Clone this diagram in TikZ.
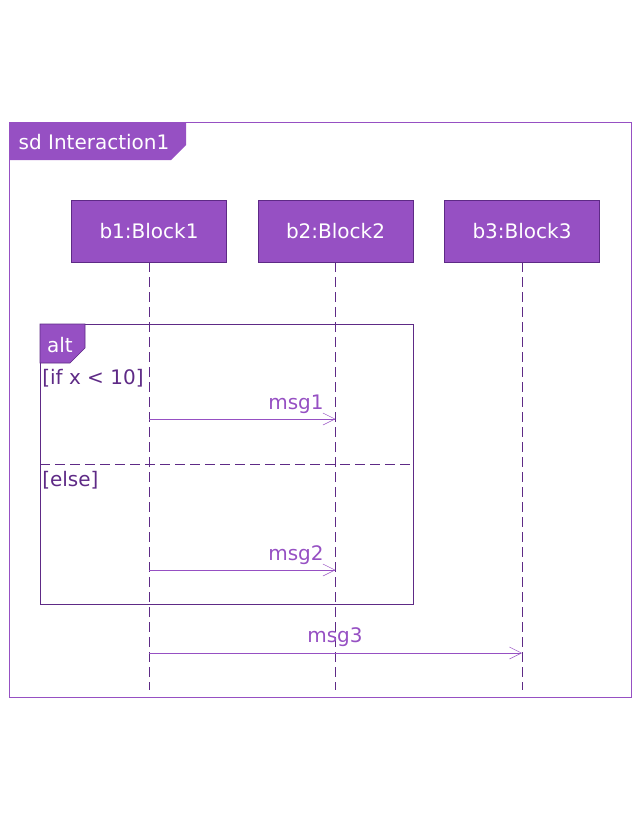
\documentclass[tikz,border=0pt]{standalone}
\usepackage{fontspec}
\setmainfont{DejaVu Sans}
\usetikzlibrary{arrows.meta}
\definecolor{umlfill}{HTML}{9650C3}
\definecolor{umldark}{HTML}{5E2A86}
\definecolor{umlmsg}{HTML}{9650C3}
\newcommand{\lbl}{\fontsize{15}{17}\selectfont}

\begin{document}
\begin{tikzpicture}[x=0.75pt,y=-0.75pt,
        block/.style={draw=umldark,fill=umlfill,text=white,minimum width=116.25pt,minimum height=46.5pt,inner sep=0pt,font=\lbl},
        lifeline/.style={draw=umldark,dash pattern=on 7.5pt off 3.75pt},
        msgline/.style={draw=umlmsg,-{Straight Barb[length=9pt,width=9pt]}},
        msglabel/.style={text=umlmsg,font=\lbl,inner sep=0pt},
        guard/.style={text=umldark,font=\lbl,inner sep=0pt,anchor=west},
        tag/.style={text=white,font=\lbl,inner sep=0pt}]
    \useasboundingbox (0,0) rectangle (640,819);
    % outer frame
    \draw[umlfill] (9,122) rectangle (631,697);
    \fill[umlfill] (9,122) -- (186,122) -- (186,145) -- (171,160) -- (9,160) -- cycle;
    \node[tag] (title) at (94,142) {sd Interaction1};
    % lifelines
    \node[block] (b1) at (149,231) {b1:Block1};
    \node[block] (b2) at (335.5,231) {b2:Block2};
    \node[block] (b3) at (522,231) {b3:Block3};
    \coordinate (e1) at (149,690);
    \coordinate (e2) at (335.5,690);
    \coordinate (e3) at (522,690);
    \draw[lifeline] (b1.south) -- (e1);
    \draw[lifeline] (b2.south) -- (e2);
    \draw[lifeline] (b3.south) -- (e3);
    % alt fragment
    \draw[umldark] (40,324) rectangle (413,604);
    \draw[umldark,fill=umlfill] (40,324) -- (85,324) -- (85,348) -- (70,363) -- (40,363) -- cycle;
    \node[tag] (alt) at (60,345) {alt};
    \node[guard] (g1) at (42,378) {[if x < 10]};
    \draw[umldark,dash pattern=on 7.5pt off 3.75pt] (40,464) -- (413,464);
    \node[guard] (g2) at (42,480) {[else]};
    % messages
    \coordinate (m1a) at (149,419);
    \coordinate (m1b) at (335.5,419);
    \coordinate (m2a) at (149,570);
    \coordinate (m2b) at (335.5,570);
    \coordinate (m3a) at (149,653);
    \coordinate (m3b) at (522,653);
    \draw[msgline] (m1a) -- (m1b);
    \draw[msgline] (m2a) -- (m2b);
    \draw[msgline] (m3a) -- (m3b);
    \node[msglabel] (l1) at (296,404) {msg1};
    \node[msglabel] (l2) at (296,555) {msg2};
    \node[msglabel] (l3) at (335,637) {msg3};
\end{tikzpicture}
\end{document}
